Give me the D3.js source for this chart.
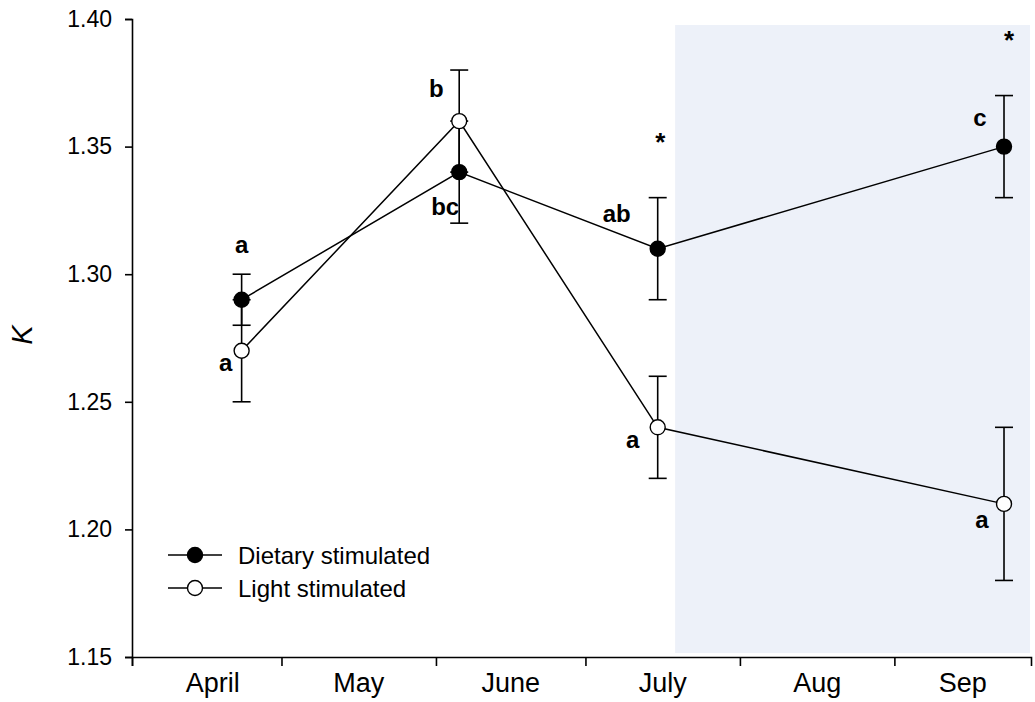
<!DOCTYPE html>
<html>
<head>
<meta charset="utf-8">
<script src="https://cdn.jsdelivr.net/npm/d3@7"></script>
<style>
  html, body { margin: 0; padding: 0; background: #fff; }
  svg { display: block; font-family: "Liberation Sans", Arial, sans-serif; }
</style>
</head>
<body>
<svg id="chart" width="1035" height="702"></svg>
<script>
// Sampling dates (year is arbitrary, only month/day matter)
const sampleDates = ["2000-04-23T00:00Z", "2000-06-05T16:00Z", "2000-07-15T12:00Z", "2000-09-23T00:00Z"];

// Condition factor K, mean and SE for each group
const dietaryK   = [1.29, 1.34, 1.31, 1.35];
const dietarySE  = [0.01, 0.02, 0.02, 0.02];
const lightK     = [1.27, 1.36, 1.24, 1.21];
const lightSE    = [0.02, 0.02, 0.02, 0.03];

// Significance letters
const dietaryLetters = ["a", "bc", "ab", "c"];
const lightLetters   = ["a", "b", "a", "a"];
// Between-group difference marks (date, height on the K scale)
const starDates  = ["2000-07-16T00:00Z", "2000-09-24T00:00Z"];
const starLevels = [1.352, 1.392];

// Axes
const monthTicks  = ["2000-04-01", "2000-05-01", "2000-06-01", "2000-07-01", "2000-08-01", "2000-09-01"];
const monthLabels = ["April", "May", "June", "July", "Aug", "Sep"];
const yTicks = [1.15, 1.20, 1.25, 1.30, 1.35, 1.40];

// Shaded period
const shadeStart = "2000-07-19";

const seriesNames = ["Dietary stimulated", "Light stimulated"];

const parse = d3.isoParse;
const svg = d3.select("#chart");

const x = d3.scaleUtc()
  .domain([parse("2000-04-01"), parse("2000-09-28T10:00Z")])
  .range([132, 1031]);
const y = d3.scaleLinear().domain([1.15, 1.40]).range([657, 19]);

// Shaded background
svg.append("rect")
  .attr("x", x(parse(shadeStart)))
  .attr("y", 25)
  .attr("width", x.range()[1] - x(parse(shadeStart)) - 1)
  .attr("height", 653 - 25)
  .attr("fill", "#edf1f9");

// Y axis
const yAxis = svg.append("g")
  .attr("transform", `translate(132,0)`)
  .call(d3.axisLeft(y).tickValues(yTicks).tickFormat(d3.format(".2f")).tickSizeOuter(0).tickSize(7).tickPadding(13));
yAxis.select(".domain").attr("stroke-width", 1.6);
yAxis.selectAll(".tick line").attr("stroke-width", 1.6);
yAxis.selectAll(".tick text").attr("font-size", 23).attr("fill", "#000")
  .attr("font-family", "Liberation Sans, Arial, sans-serif");

// X axis
const xAxis = svg.append("g")
  .attr("transform", `translate(0,${y(1.15)})`)
  .call(d3.axisBottom(x).tickValues(monthTicks.map(parse)).tickFormat("").tickSizeOuter(0).tickSize(9));
xAxis.select(".domain").attr("stroke-width", 1.6);
xAxis.selectAll(".tick line").attr("stroke-width", 1.6);

// Month labels centred in each month
const tickPos = monthTicks.map(d => x(parse(d))).concat([x.range()[1]]);
svg.append("g").selectAll("text")
  .data(monthLabels)
  .join("text")
  .attr("x", (d, i) => (tickPos[i] + tickPos[i + 1]) / 2 + (i === 0 ? 6 : 0))
  .attr("y", 692)
  .attr("text-anchor", "middle")
  .attr("font-size", 27)
  .attr("fill", "#000")
  .text(d => d);

// Y axis title
svg.append("text")
  .attr("transform", "translate(32,335) rotate(-90)")
  .attr("text-anchor", "middle")
  .attr("font-size", 29)
  .attr("font-style", "italic")
  .text("K");

// Build series data
const series = [
  { name: seriesNames[0], mean: dietaryK, se: dietarySE, fill: "#000", letters: dietaryLetters },
  { name: seriesNames[1], mean: lightK, se: lightSE, fill: "#fff", letters: lightLetters }
].map(s => ({
  ...s,
  pts: sampleDates.map((d, i) => ({ date: parse(d), v: s.mean[i], e: s.se[i], letter: s.letters[i] }))
}));

const line = d3.line().x(d => x(d.date)).y(d => y(d.v));
const cap = 9;

// Error bars first (under the lines and markers)
series.forEach(s => {
  const g = svg.append("g").attr("stroke", "#000").attr("stroke-width", 1.6);
  s.pts.forEach(p => {
    const cx = x(p.date);
    g.append("line").attr("x1", cx).attr("x2", cx).attr("y1", y(p.v - p.e)).attr("y2", y(p.v + p.e));
    g.append("line").attr("x1", cx - cap).attr("x2", cx + cap).attr("y1", y(p.v - p.e)).attr("y2", y(p.v - p.e));
    g.append("line").attr("x1", cx - cap).attr("x2", cx + cap).attr("y1", y(p.v + p.e)).attr("y2", y(p.v + p.e));
  });
});

// Lines
series.forEach(s => {
  svg.append("path").datum(s.pts)
    .attr("d", line).attr("fill", "none").attr("stroke", "#000").attr("stroke-width", 1.5);
});

// Markers
series.forEach(s => {
  svg.append("g").selectAll("circle").data(s.pts).join("circle")
    .attr("cx", d => x(d.date)).attr("cy", d => y(d.v)).attr("r", 7.5)
    .attr("fill", s.fill).attr("stroke", "#000").attr("stroke-width", 1.4);
});

// Letter labels, offsets relative to each point
const dietaryOffsets = [[0, -47], [-14, 43], [-41, -27], [-24, -21]];
const lightOffsets   = [[-16, 20], [-23, -24], [-25, 21], [-22, 24]];
const letterG = svg.append("g").attr("font-size", 24).attr("font-weight", "bold").attr("text-anchor", "middle");
series[0].pts.forEach((p, i) => {
  letterG.append("text").attr("x", x(p.date) + dietaryOffsets[i][0]).attr("y", y(p.v) + dietaryOffsets[i][1]).text(p.letter);
});
series[1].pts.forEach((p, i) => {
  letterG.append("text").attr("x", x(p.date) + lightOffsets[i][0]).attr("y", y(p.v) + lightOffsets[i][1]).text(p.letter);
});

// Significance stars
svg.append("g").selectAll("text").data(starDates).join("text")
  .attr("x", d => x(parse(d)))
  .attr("y", (d, i) => y(starLevels[i]) + 10)
  .attr("text-anchor", "middle")
  .attr("font-size", 26)
  .attr("font-weight", "bold")
  .text("*");

// Legend
const legend = svg.append("g");
series.forEach((s, i) => {
  const ly = 555 + i * 33;
  legend.append("line").attr("x1", 168).attr("x2", 222).attr("y1", ly).attr("y2", ly)
    .attr("stroke", "#000").attr("stroke-width", 1.5);
  legend.append("circle").attr("cx", 195).attr("cy", ly).attr("r", 7.5)
    .attr("fill", s.fill).attr("stroke", "#000").attr("stroke-width", 1.4);
  legend.append("text").attr("x", 238).attr("y", ly + 9).attr("font-size", 24).text(s.name);
});
</script>
</body>
</html>
